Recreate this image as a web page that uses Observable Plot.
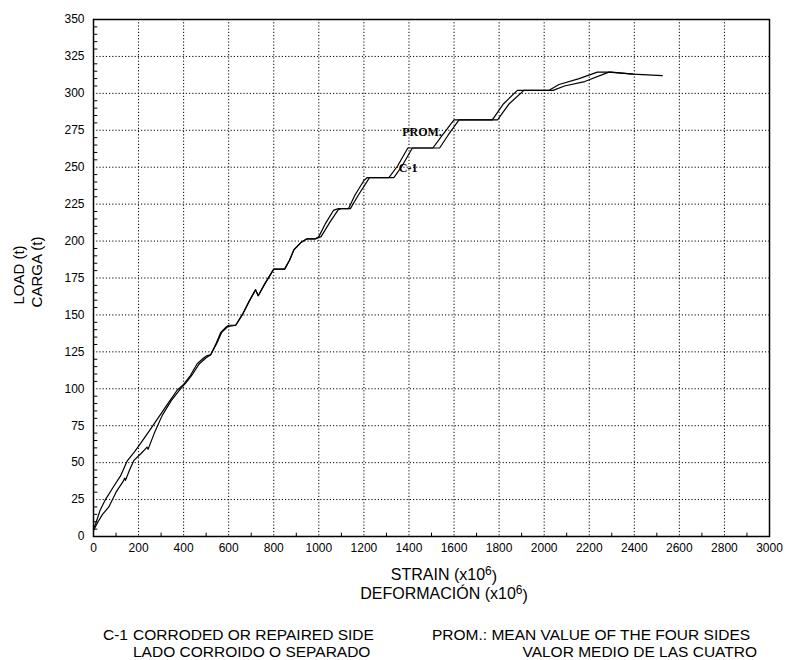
<!DOCTYPE html>
<html>
<head>
<meta charset="utf-8">
<script src="https://cdn.jsdelivr.net/npm/d3@7"></script>
<script src="https://cdn.jsdelivr.net/npm/@observablehq/plot@0.6"></script>
<style>
  html, body { margin: 0; padding: 0; background: #fff; }
  #chart { width: 787px; height: 660px; }
</style>
</head>
<body>
<div id="chart"></div>
<script>
// ---- data ----
const promStrain = [0, 10, 30, 53, 90, 120, 149, 180, 209, 250, 290, 330, 371, 400, 430, 460, 490, 505, 520, 545, 564, 590, 601, 631, 660, 690, 719, 731, 760, 800, 848, 870, 889, 920, 948, 985, 1000, 1030, 1066, 1088, 1132, 1160, 1200, 1215, 1311, 1350, 1395, 1506, 1550, 1600, 1770, 1820, 1881, 2020, 2066, 2155, 2236, 2300, 2395];
const promLoad   = [5, 9, 18, 25, 34, 41, 51, 57, 63, 72, 81, 90, 99, 103, 109, 117, 121, 122.5, 123, 131, 138, 142, 143, 143, 150, 159, 167, 163, 171, 181, 181, 187, 194, 199, 201.5, 201.5, 203, 212, 221, 222, 222, 231, 241, 243, 243, 251, 263, 263, 272, 282, 282, 293, 302, 302, 306, 310, 314.4, 314.4, 313];

const c1Strain = [0, 20, 40, 68, 100, 130, 139, 142, 160, 179, 210, 238, 242, 270, 305, 345, 386, 410, 440, 470, 500, 520, 548, 568, 595, 631, 660, 690, 719, 731, 760, 800, 848, 870, 889, 920, 948, 985, 1010, 1050, 1085, 1100, 1140, 1175, 1225, 1333, 1370, 1415, 1536, 1575, 1622, 1793, 1845, 1910, 2040, 2090, 2180, 2287, 2395, 2524];
const c1Load   = [4, 10, 15, 20, 30, 37, 39.5, 38, 45, 51.5, 56, 60.5, 59, 70, 82, 92, 100, 104, 110, 117, 121, 123, 131, 138, 142, 143, 150, 159, 167, 163, 171, 181, 181, 187, 194, 199, 201.5, 201.5, 203, 213, 221, 222, 222, 231, 243, 243, 251, 263, 263, 272, 282, 282, 293, 302, 302, 305, 308, 314.4, 313, 312];

const xTicks = d3.range(0, 3001, 200);
const yTicks = d3.range(0, 351, 25);
const xMinor = d3.range(100, 3000, 200);
const yMinor = d3.range(5, 350, 5).filter(v => v % 25 !== 0);

const curveLabels = [
  {strain: 1370, load: 273.5, text: "PROM."},
  {strain: 1355, load: 249.5, text: "C-1"}
];

const prom = promStrain.map((s, i) => ({strain: s, load: promLoad[i]}));
const c1 = c1Strain.map((s, i) => ({strain: s, load: c1Load[i]}));

const FONT = "'Liberation Sans Narrow', 'Arial Narrow', 'Liberation Sans', Arial, sans-serif";
const SERIF = "'Liberation Serif', 'DejaVu Serif', serif";

const chart = Plot.plot({
  width: 787,
  height: 660,
  marginLeft: 93,
  marginRight: 18,
  marginTop: 19,
  marginBottom: 124,
  style: {fontFamily: FONT, fontSize: "12px", color: "#000", background: "#fff"},
  x: {domain: [0, 3000]},
  y: {domain: [0, 350]},
  marks: [
    Plot.gridX(xTicks, {stroke: "#000", strokeOpacity: 1, strokeWidth: 1, strokeDasharray: "1.2,2"}),
    Plot.gridY(yTicks, {stroke: "#000", strokeOpacity: 1, strokeWidth: 1, strokeDasharray: "1.2,2"}),
    // inward minor ticks
    Plot.link(yMinor, {x1: d => 0, x2: d => 17, y1: d => d, y2: d => d, stroke: "#000", strokeWidth: 1}),
    Plot.link(xMinor, {x1: d => d, x2: d => d, y1: d => 0, y2: d => 2.6, stroke: "#000", strokeWidth: 1}),
    Plot.axisX(xTicks, {tickSize: 0, tickPadding: 7, label: null, fontSize: 12, tickFormat: d => String(d)}),
    Plot.axisY(yTicks, {tickSize: 0, tickPadding: 9, label: null, fontSize: 12, tickFormat: d => String(d)}),
    Plot.line(c1, {x: "strain", y: "load", stroke: "#000", strokeWidth: 1.2}),
    Plot.line(prom, {x: "strain", y: "load", stroke: "#000", strokeWidth: 1.2}),
    Plot.text(curveLabels, {x: "strain", y: "load", text: "text", textAnchor: "start",
      fontFamily: SERIF, fontSize: 12, fontWeight: "bold", fill: "#000"}),
    Plot.frame({stroke: "#000", strokeWidth: 1.5})
  ]
});

document.getElementById("chart").appendChild(chart);

// ---- axis titles and footnotes as real text ----
const svg = d3.select(chart);
function sup(t, base, exp) {
  t.append("tspan").text(base);
  t.append("tspan").attr("dy", "-0.45em").attr("font-size", "0.75em").text(exp);
  t.append("tspan").attr("dy", "0.45em").text(")");
}
function addText(x, y, anchor, size) {
  return svg.append("text").attr("x", x).attr("y", y).attr("text-anchor", anchor)
    .attr("font-family", FONT).attr("font-size", size).attr("fill", "#000");
}
sup(addText(444, 580, "middle", 16), "STRAIN (x10", "6");
sup(addText(444, 599, "middle", 16), "DEFORMACIÓN (x10", "6");

addText(103, 640, "start", 15.5).text("C-1");
addText(133, 640, "start", 15.5).text("CORRODED OR REPAIRED SIDE");
addText(133, 657, "start", 15.5).text("LADO CORROIDO O SEPARADO");
addText(432, 640, "start", 15.5).text("PROM.: MEAN VALUE OF THE FOUR SIDES");
addText(757, 657, "end", 15.5).text("VALOR MEDIO DE LAS CUATRO");

svg.append("text").attr("transform", "translate(24,275) rotate(-90)")
  .attr("text-anchor", "middle").attr("font-family", FONT).attr("font-size", 15).attr("fill", "#000")
  .text("LOAD (t)");
svg.append("text").attr("transform", "translate(42,272) rotate(-90)")
  .attr("text-anchor", "middle").attr("font-family", FONT).attr("font-size", 15).attr("fill", "#000")
  .text("CARGA (t)");
</script>
</body>
</html>
